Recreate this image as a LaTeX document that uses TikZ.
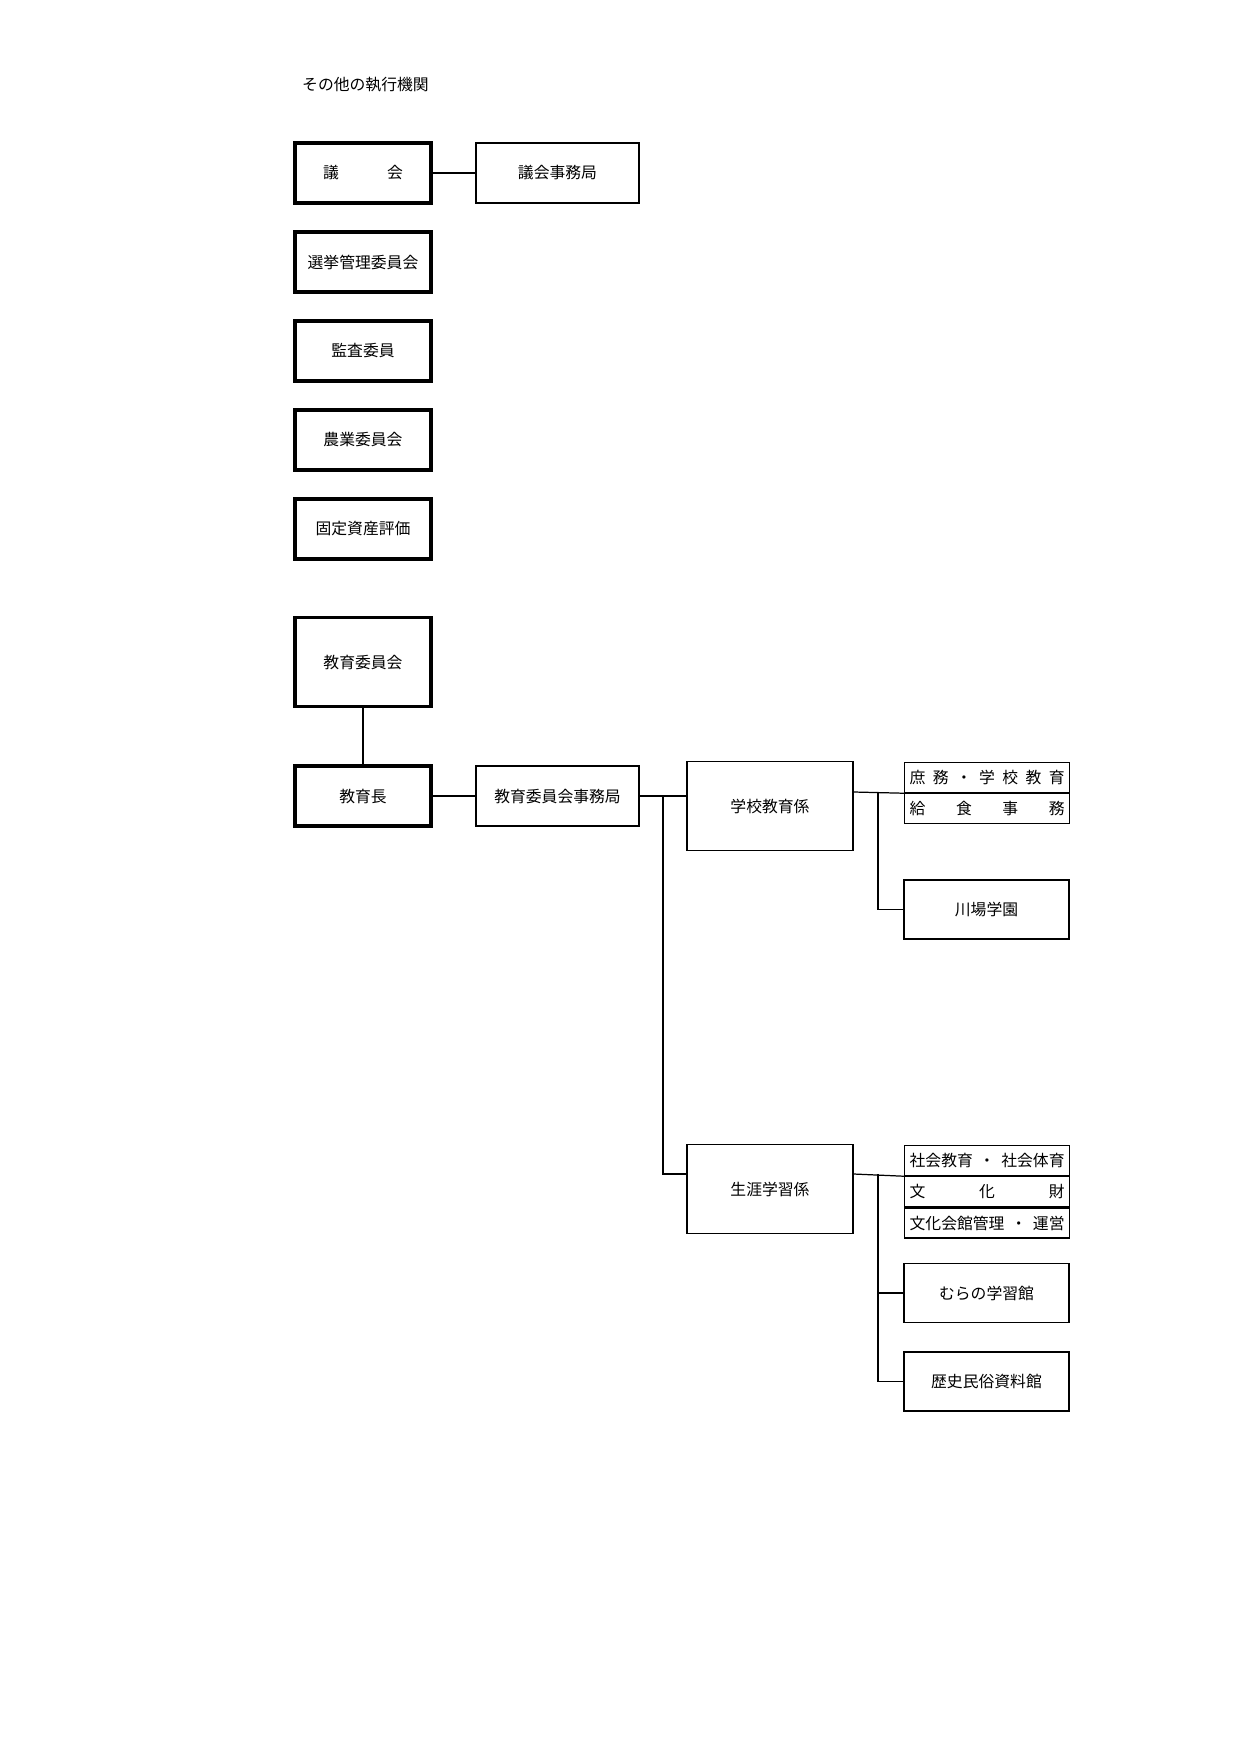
\documentclass[tikz,border=0pt]{standalone}
\usepackage{fontspec}
\setmainfont{Noto Sans CJK JP}
\newcommand{\spreadtext}[2]{\makebox[#1]{#2}}
\tikzset{>=latex}
\tikzset{
  organ/.style={draw,line width=1.8pt,minimum width=2.72cm,minimum height=1.2cm,inner sep=0pt,font=\fontsize{9}{9}\selectfont},
  office/.style={draw,line width=0.7pt,minimum width=3.26cm,minimum height=1.2cm,inner sep=0pt,font=\fontsize{9}{9}\selectfont},
  unit/.style={draw,line width=0.7pt,minimum width=3.32cm,minimum height=1.78cm,inner sep=0pt,font=\fontsize{9}{9}\selectfont},
  facility/.style={draw,line width=0.7pt,minimum width=3.3cm,minimum height=1.18cm,inner sep=0pt,font=\fontsize{9}{9}\selectfont},
  cell/.style={draw,line width=0.7pt,minimum width=3.3cm,minimum height=0.6cm,inner sep=0pt,font=\fontsize{9}{9}\selectfont},
  link/.style={line width=0.7pt}
}
\begin{document}
\begin{tikzpicture}[x=0.02cm,y=-0.02cm]
  \useasboundingbox (0,0) rectangle (1241,1754);
  \node[anchor=west,font=\fontsize{9}{9}\selectfont] (title) at (296,85) {その他の執行機関};
  % executive organs
  \node[organ] (gikai) at (363,173) {\makebox[1.6cm]{議\hfill 会}};
  \node[office] (gjim) at (557.5,173) {議会事務局};
  \node[organ] (senkyo) at (363,262) {選挙管理委員会};
  \node[organ] (kansa) at (363,351) {監査委員};
  \node[organ] (nogyo) at (363,440) {農業委員会};
  \node[organ] (kotei) at (363,529) {固定資産評価};
  \draw[link] (gikai) -- (gjim);
  % education
  \node[organ,minimum height=1.78cm] (kyoi) at (363,662) {教育委員会};
  \node[organ] (kyocho) at (363,796) {教育長};
  \node[office] (kjim) at (557.5,796) {教育委員会事務局};
  \node[unit] (gakko) at (770,806) {学校教育係};
  \node[unit] (shogai) at (770,1189) {生涯学習係};
  \draw[link] (kyoi) -- (kyocho);
  \draw[link] (kyocho) -- (kjim);
  \draw[link] (kjim) -- (kjim -| gakko.west);
  \coordinate (trunk) at (663,796);
  \draw[link] (trunk) |- (shogai.west |- 0,1174);
  % school education
  \node[cell,anchor=north west] (shomu) at (904,762) {\spreadtext{3.1cm}{庶\hfill 務\hfill ・\hfill 学\hfill 校\hfill 教\hfill 育}};
  \node[cell,anchor=north] (kyushoku) at (shomu.south) {\spreadtext{3.1cm}{給\hfill 食\hfill 事\hfill 務}};
  \node[facility] (kawaba) at (986.5,909.5) {川場学園};
  \coordinate (sbranch) at (878,792);
  \draw[link] (gakko.east |- sbranch) -- (shomu.south west);
  \draw[link] (sbranch) |- (kawaba);
  % lifelong learning
  \node[cell,anchor=north west] (shakai) at (904,1145) {\spreadtext{3.1cm}{社会教育\hfill ・\hfill 社会体育}};
  \node[cell,anchor=north] (bunkazai) at (shakai.south) {\spreadtext{3.1cm}{文\hfill 化\hfill 財}};
  \node[cell,anchor=north] (kaikan) at (bunkazai.south) {\spreadtext{3.1cm}{文化会館管理\hfill ・\hfill 運営}};
  \node[facility] (mura) at (986.5,1293) {むらの学習館};
  \node[facility] (rekishi) at (986.5,1381.5) {歴史民俗資料館};
  \coordinate (lbranch) at (878,1174);
  \draw[link] (shogai.east |- lbranch) -- (shakai.south west);
  \draw[link] (lbranch) |- (mura);
  \draw[link] (lbranch) |- (rekishi);
\end{tikzpicture}
\end{document}
